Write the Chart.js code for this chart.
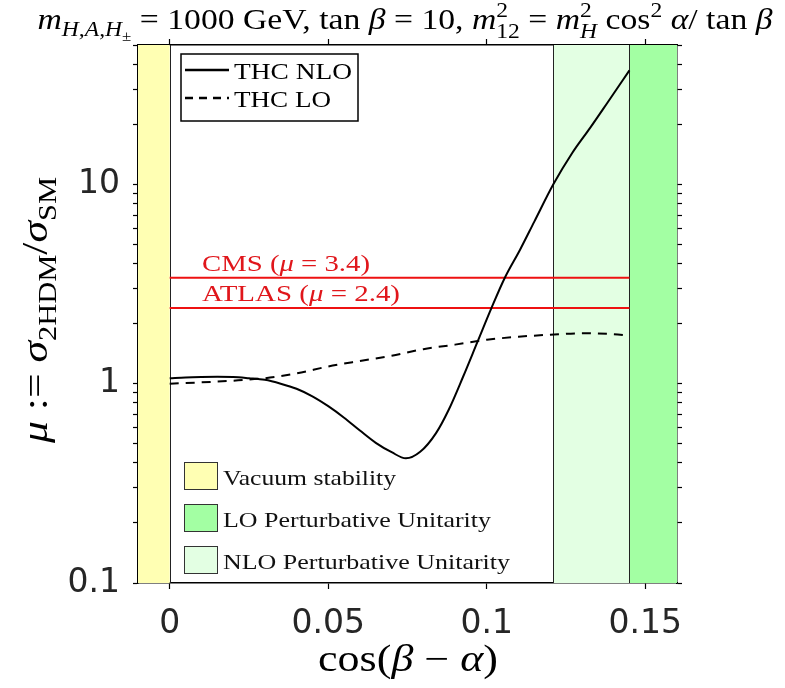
<!DOCTYPE html>
<html><head><meta charset="utf-8">
<script src="https://cdn.jsdelivr.net/npm/chart.js@4.4.0/dist/chart.umd.min.js"></script>
<style>html,body{margin:0;padding:0;background:#fff}#wrap{width:785px;height:688px}</style>
</head><body><div id="wrap"><canvas id="c" width="785" height="688"></canvas></div>
<script>
// ---- data ----
const cosBA_NLO = [0, 0.005, 0.01, 0.015, 0.02, 0.025, 0.03, 0.035, 0.04, 0.045, 0.05, 0.055, 0.06, 0.065, 0.07, 0.0745, 0.079, 0.084, 0.088, 0.0925, 0.097, 0.1015, 0.1057, 0.1105, 0.115, 0.121, 0.127, 0.1326, 0.138, 0.145];
const mu_NLO    = [1.065, 1.075, 1.08, 1.082, 1.08, 1.065, 1.045, 1.0, 0.943, 0.864, 0.771, 0.675, 0.582, 0.505, 0.453, 0.422, 0.455, 0.565, 0.74, 1.08, 1.61, 2.4, 3.4, 4.7, 6.5, 10, 14.4, 19.2, 25.6, 37.3];
const cosBA_LO  = [0, 0.01, 0.02, 0.03, 0.04, 0.05, 0.06, 0.07, 0.08, 0.09, 0.1, 0.11, 0.12, 0.13, 0.14, 0.145];
const mu_LO     = [1.0, 1.015, 1.035, 1.065, 1.125, 1.22, 1.30, 1.38, 1.49, 1.57, 1.66, 1.72, 1.76, 1.79, 1.77, 1.74];
const seriesNames = ['THC NLO', 'THC LO'];
const limitNames = ['CMS', 'ATLAS'];
const limitMu = [3.4, 2.4];
const limitRange = [0, 0.145];
const bandNames = ['Vacuum stability', 'LO Perturbative Unitarity', 'NLO Perturbative Unitarity'];
const bandFrom = [-0.01, 0.145, 0.121];
const bandTo   = [0, 0.16, 0.145];
const xTickValues = [0, 0.05, 0.1, 0.15];
const xTickLabels = ['0', '0.05', '0.1', '0.15'];
const yTickValues = [0.1,0.2,0.3,0.4,0.5,0.6,0.7,0.8,0.9,1,2,3,4,5,6,7,8,9,10,20,30,40,50];
const yLabelValues = [0.1, 1, 10];
const yLabelTexts = ['0.1', '1', '10'];

// ---- styles ----
const bandColors = ['#ffffb3', '#a3ffa3', '#e3ffe3'];
const SERIF = '"Liberation Serif", "DejaVu Serif", serif';
const TICKFONT = {family: 'DejaVu Sans', size: 33};

function segFont(s, base){ return (s.it ? 'italic ' : '') + (base*(s.k||1)).toFixed(1) + 'px ' + SERIF; }
function segW(ctx, s, base){
  if (s.stack) return Math.max(...s.stack.map(p => { ctx.font = segFont(p, base); return ctx.measureText(p.t).width; }));
  ctx.font = segFont(s, base); return ctx.measureText(s.t).width;
}
// mode: 'stretch' = horizontal only, 'mixed' = vertical by sqrt of horizontal factor
function drawRich(ctx, segs, x, y, base, align, targetW, color, mode){
  let w = 0; segs.forEach(s => w += segW(ctx, s, base));
  const sx = targetW ? targetW / w : 1;
  const sy = mode === 'mixed' ? Math.sqrt(sx) : 1;
  ctx.save(); ctx.translate(x, y); ctx.scale(sx, sy);
  ctx.fillStyle = color || '#000'; ctx.textBaseline = 'alphabetic'; ctx.textAlign = 'left';
  let cx = align === 'center' ? -w/2 : 0;
  segs.forEach(s => {
    if (s.stack) {
      s.stack.forEach(p => { ctx.font = segFont(p, base); ctx.fillText(p.t, cx, (p.dy||0)*base); });
    } else {
      ctx.font = segFont(s, base); ctx.fillText(s.t, cx, (s.dy||0)*base);
    }
    cx += segW(ctx, s, base);
  });
  ctx.restore();
}

const bandPlugin = {
  id: 'bands',
  beforeDatasetsDraw(chart){
    const {ctx, chartArea: a, scales: {x}} = chart;
    ctx.save();
    bandNames.forEach((n, i) => {
      const x0 = x.getPixelForValue(bandFrom[i]), x1 = x.getPixelForValue(bandTo[i]);
      ctx.fillStyle = bandColors[i];
      ctx.fillRect(x0, a.top, x1 - x0, a.bottom - a.top);
    });
    ctx.strokeStyle = '#222'; ctx.lineWidth = 1;
    bandNames.forEach((n, i) => {
      [bandFrom[i], bandTo[i]].forEach(v => {
        if (v > x.min && v < x.max) {
          const px = Math.round(x.getPixelForValue(v)) + 0.5;
          ctx.beginPath(); ctx.moveTo(px, a.top); ctx.lineTo(px, a.bottom); ctx.stroke();
        }
      });
    });
    ctx.restore();
  }
};

const textPlugin = {
  id: 'texts',
  afterDraw(chart){
    const {ctx, scales: {x, y}} = chart;
    ctx.save();
    // title
    drawRich(ctx, [
      {t:'m', it:1}, {t:'H,A,H', it:1, k:0.7, dy:0.25}, {t:'±', k:0.5, dy:0.42},
      {t:' = 1000 GeV, tan '}, {t:'β', it:1}, {t:' = 10, '},
      {t:'m', it:1}, {stack:[{t:'2', k:0.7, dy:-0.4}, {t:'12', k:0.7, dy:0.3}]},
      {t:' = '}, {t:'m', it:1}, {stack:[{t:'2', k:0.7, dy:-0.4}, {t:'H', it:1, k:0.7, dy:0.3}]},
      {t:' cos'}, {t:'2', k:0.7, dy:-0.4}, {t:' '}, {t:'α', it:1}, {t:'/ tan '}, {t:'β', it:1}
    ], 405, 29, 25, 'center', 735, '#000', 'mixed');
    // x title
    drawRich(ctx, [{t:'cos('}, {t:'β', it:1}, {t:' − '}, {t:'α', it:1}, {t:')'}], 408, 671, 31, 'center', 180, '#000', 'mixed');
    // y title
    ctx.save(); ctx.translate(47, 310); ctx.rotate(-Math.PI/2);
    drawRich(ctx, [{t:'μ', it:1}, {t:' := '}, {t:'σ', it:1}, {t:'2HDM', k:0.7, dy:0.25}, {t:'/'}, {t:'σ', it:1}, {t:'SM', k:0.7, dy:0.25}], 0, 0, 29, 'center', 266, '#000', 'mixed');
    ctx.restore();
    // limit labels
    const limW = [168, 198];
    limitNames.forEach((n, i) => {
      const py = y.getPixelForValue(limitMu[i]);
      drawRich(ctx, [{t:n + ' ('}, {t:'μ', it:1}, {t:' = ' + limitMu[i].toFixed(1) + ')'}], 202, py - 6.5, 24, 'left', limW[i], '#e0161b');
    });
    // series legend
    ctx.fillStyle = '#fff'; ctx.fillRect(181, 54, 177, 67);
    ctx.strokeStyle = '#000'; ctx.lineWidth = 1.5; ctx.strokeRect(181, 54, 177, 67);
    const legY = [70, 98], legBase = [78.5, 106.5], legW = [118, 97];
    seriesNames.forEach((n, i) => {
      ctx.strokeStyle = '#000'; ctx.lineWidth = 2.5;
      ctx.setLineDash(i === 0 ? [] : [8, 6]);
      ctx.beginPath(); ctx.moveTo(185, legY[i]); ctx.lineTo(229, legY[i]); ctx.stroke();
      ctx.setLineDash([]);
      drawRich(ctx, [{t:n}], 234, legBase[i], 24, 'left', legW[i]);
    });
    // band legend
    const sqTop = [462, 504, 546], bw = [173, 268, 287];
    bandNames.forEach((n, i) => {
      ctx.fillStyle = bandColors[i]; ctx.fillRect(184, sqTop[i], 33, 27);
      ctx.strokeStyle = '#333'; ctx.lineWidth = 1; ctx.strokeRect(184.5, sqTop[i] + 0.5, 33, 27);
      drawRich(ctx, [{t:n}], 223, sqTop[i] + 23, 21, 'left', bw[i], '#111');
    });
    ctx.restore();
  }
};

const yTickCb = (v) => { const k = yLabelValues.findIndex(t => Math.abs(t - v) < 1e-9); return k >= 0 ? yLabelTexts[k] : ''; };
const setYTicks = s => { s.ticks = yTickValues.map(v => ({value: v, major: yLabelValues.includes(v)})); };
const setXTicks = s => { s.ticks = xTickValues.map(v => ({value: v})); };
const gridOpt = {drawOnChartArea: false, drawTicks: true, tickLength: 6, color: '#000', tickWidth: 1.2};
const borderOpt = {display: true, color: '#000', width: 1.5};

new Chart(document.getElementById('c'), {
  type: 'line',
  data: {
    datasets: [
      {label: seriesNames[0], data: cosBA_NLO.map((v, i) => ({x: v, y: mu_NLO[i]})), borderColor: '#000', borderWidth: 2, pointRadius: 0, cubicInterpolationMode: 'monotone', order: 1},
      {label: seriesNames[1], data: cosBA_LO.map((v, i) => ({x: v, y: mu_LO[i]})), borderColor: '#000', borderWidth: 2, borderDash: [9, 7], pointRadius: 0, cubicInterpolationMode: 'monotone', order: 2},
      ...limitNames.map((n, i) => ({label: n, data: limitRange.map(v => ({x: v, y: limitMu[i]})), borderColor: '#ee1111', borderWidth: 2, pointRadius: 0, order: 3}))
    ]
  },
  options: {
    responsive: false, animation: false, parsing: true,
    layout: {padding: 0},
    plugins: {legend: {display: false}, tooltip: {enabled: false}, title: {display: false}},
    scales: {
      x: {type: 'linear', position: 'bottom', min: -0.01, max: 0.16, afterBuildTicks: setXTicks,
          afterFit: s => { s.height = 105; },
          ticks: {callback: (v, i) => xTickLabels[i], font: TICKFONT, color: '#262626', padding: 16, maxRotation: 0, autoSkip: false},
          grid: gridOpt, border: borderOpt},
      x2: {type: 'linear', position: 'top', min: -0.01, max: 0.16, afterBuildTicks: setXTicks,
          afterFit: s => { s.height = 45; },
          ticks: {callback: () => '', font: {size: 10}, autoSkip: false},
          grid: gridOpt, border: borderOpt},
      y: {type: 'logarithmic', position: 'left', min: 0.1, max: 50, afterBuildTicks: setYTicks,
          afterFit: s => { s.width = 138; },
          ticks: {callback: yTickCb, font: TICKFONT, color: '#262626', padding: 13, autoSkip: false},
          grid: {...gridOpt, tickLength: 5}, border: borderOpt},
      y2: {type: 'logarithmic', position: 'right', min: 0.1, max: 50, afterBuildTicks: setYTicks,
          afterFit: s => { s.width = 108; },
          ticks: {callback: () => '', font: {size: 10}, autoSkip: false},
          grid: {...gridOpt, tickLength: 5}, border: borderOpt}
    }
  },
  plugins: [bandPlugin, textPlugin]
});
</script></body></html>
